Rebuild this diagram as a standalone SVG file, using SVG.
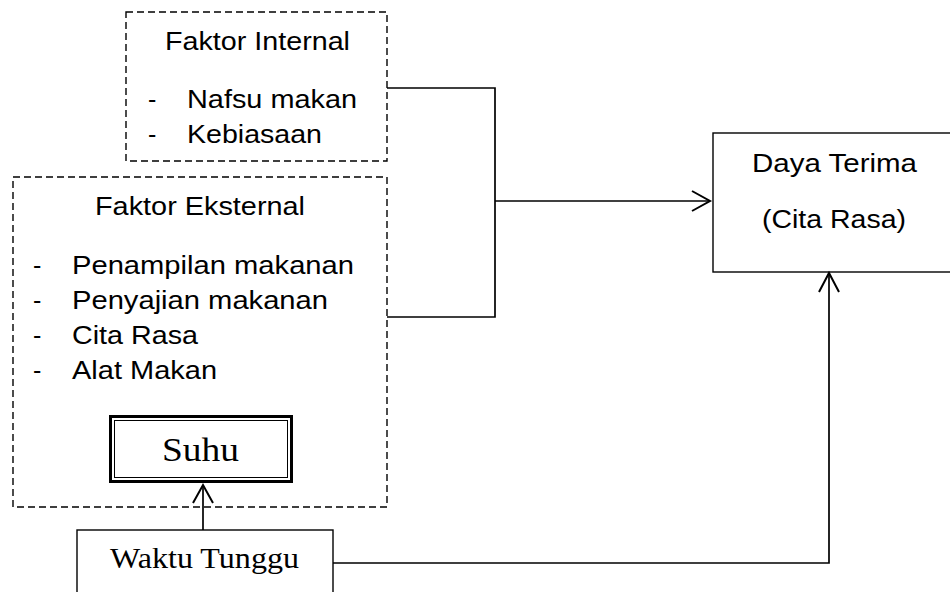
<svg xmlns="http://www.w3.org/2000/svg" width="950" height="592" viewBox="0 0 950 592">
<style>
.dash{fill:none;stroke:#000;stroke-width:1.4;stroke-dasharray:7 4}
.box{fill:#fff;stroke:#000;stroke-width:1.4}
.ln{fill:none;stroke:#000;stroke-width:1.7}
.head{fill:none;stroke:#000;stroke-width:2}
.sans{font-family:"Liberation Sans",Arial,sans-serif;font-size:25px;fill:#000}
.serif{font-family:"Liberation Serif","Times New Roman",serif;fill:#000}
</style>
<rect width="950" height="592" fill="#fff"/>
<g id="faktor-internal">
  <rect class="dash" x="126" y="12" width="261" height="149"/>
  <text class="sans" x="165" y="50" textLength="185" lengthAdjust="spacingAndGlyphs">Faktor Internal</text>
  <text class="sans" x="148" y="108">-</text>
  <text class="sans" x="187" y="108" textLength="170" lengthAdjust="spacingAndGlyphs">Nafsu makan</text>
  <text class="sans" x="148" y="143">-</text>
  <text class="sans" x="187" y="143" textLength="135" lengthAdjust="spacingAndGlyphs">Kebiasaan</text>
</g>
<g id="faktor-eksternal">
  <rect class="dash" x="13" y="177" width="374" height="330"/>
  <text class="sans" x="95" y="215" textLength="210" lengthAdjust="spacingAndGlyphs">Faktor Eksternal</text>
  <text class="sans" x="33" y="274">-</text>
  <text class="sans" x="72" y="274" textLength="282" lengthAdjust="spacingAndGlyphs">Penampilan makanan</text>
  <text class="sans" x="33" y="309">-</text>
  <text class="sans" x="72" y="309" textLength="256" lengthAdjust="spacingAndGlyphs">Penyajian makanan</text>
  <text class="sans" x="33" y="344">-</text>
  <text class="sans" x="72" y="344" textLength="126" lengthAdjust="spacingAndGlyphs">Cita Rasa</text>
  <text class="sans" x="33" y="379">-</text>
  <text class="sans" x="72" y="379" textLength="145" lengthAdjust="spacingAndGlyphs">Alat Makan</text>
</g>
<g id="suhu">
  <rect x="110.5" y="416.5" width="181" height="65" fill="#fff" stroke="#000" stroke-width="3"/>
  <rect x="114.5" y="420.5" width="173" height="57" fill="none" stroke="#000" stroke-width="1"/>
  <text class="serif" x="162" y="461" font-size="33" textLength="77" lengthAdjust="spacingAndGlyphs">Suhu</text>
</g>
<g id="waktu-tunggu">
  <rect class="box" x="77" y="530" width="256" height="80"/>
  <text class="serif" x="110" y="568" font-size="29" textLength="189" lengthAdjust="spacingAndGlyphs">Waktu Tunggu</text>
</g>
<g id="daya-terima">
  <rect class="box" x="713" y="133" width="250" height="139"/>
  <text class="sans" x="752" y="172" textLength="165" lengthAdjust="spacingAndGlyphs">Daya Terima</text>
  <text class="sans" x="762" y="228" textLength="144" lengthAdjust="spacingAndGlyphs">(Cita Rasa)</text>
</g>
<g id="connectors">
  <polyline class="ln" points="387,88 495,88 495,317 387,317"/>
  <line class="ln" x1="495" y1="201" x2="709" y2="201"/>
  <polyline class="head" points="692,191 710,201 692,211"/>
  <line class="ln" x1="203" y1="530" x2="203" y2="486"/>
  <polyline class="head" points="193,503 203,485 213,503"/>
  <polyline class="ln" points="333,563 829,563 829,274"/>
  <polyline class="head" points="819,292 829,273 839,292"/>
</g>
</svg>
